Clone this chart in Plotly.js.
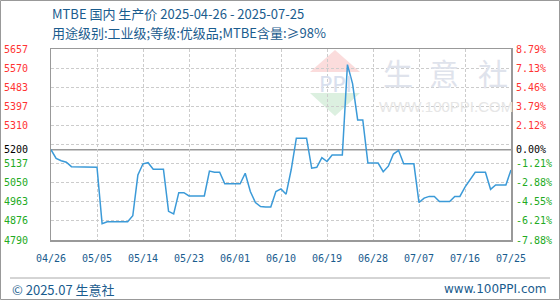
<!DOCTYPE html>
<html>
<head>
<meta charset="utf-8">
<script src="https://cdn.plot.ly/plotly-3.0.1.min.js"></script>
<style>
html,body{margin:0;padding:0;background:#fff;}
#chart{width:560px;height:300px;}
</style>
</head>
<body>
<div id="chart"></div>
<script>
// ---- data ----
const startDate = '2025-04-26';
const prices = [
  5200, 5160, 5150, 5143, 5123, 5123, 5123, 5123, 5123, 5120,
  4864, 4873, 4873, 4873, 4873, 4873, 4900, 5085, 5136, 5141,
  5111, 5111, 5111, 4920, 4908, 5005, 5005, 4990, 4990, 4990,
  4990, 5103, 5098, 5098, 5045, 5045, 5045, 5045, 5093, 5010,
  4960, 4942, 4940, 4940, 5010, 5022, 4998, 5110, 5252, 5252,
  5252, 5116, 5120, 5164, 5146, 5176, 5176, 5176, 5586, 5500,
  5335, 5335, 5139, 5139, 5139, 5100, 5125, 5180, 5197, 5136,
  5136, 5136, 4960, 4980, 4988, 4988, 4965, 4965, 4965, 4988,
  4988, 5030, 5065, 5097, 5097, 5097, 5020, 5040, 5040, 5040,
  5108
];
const baseValue = 5200;
const xTickLabels = ['04/26','05/05','05/14','05/23','06/01','06/10','06/19','06/28','07/07','07/16','07/25'];
const gridVals = [5657, 5570.3, 5483.6, 5396.9, 5310.2, 5223.5, 5136.8, 5050.1, 4963.4, 4876.7, 4790];
const leftLabelVals = [5657, 5570.3, 5483.6, 5396.9, 5310.2, 5200, 5136.8, 5050.1, 4963.4, 4876.7, 4790];
const leftLabels = ['5657','5570','5483','5397','5310','5200','5137','5050','4963','4876','4790'];
const pctLabels = ['8.79%','7.13%','5.46%','3.79%','2.12%','0.00%','-1.21%','-2.88%','-4.55%','-6.21%','-7.88%'];

// ---- helpers ----
function buildDates(start, n){
  const out = [];
  const d0 = new Date(start + 'T00:00:00Z');
  for (let i = 0; i < n; i++){
    const d = new Date(d0.getTime() + i*86400000);
    out.push(d.toISOString().slice(0,10));
  }
  return out;
}
const dates = buildDates(startDate, prices.length);
const tickDates = xTickLabels.map(s => '2025-' + s.replace('/', '-'));
function colorFor(v){ return v > baseValue ? '#ff3333' : (v < baseValue ? '#22aa22' : '#000000'); }
const leftText = leftLabels.map((t,i) => '<span style="color:' + colorFor(leftLabelVals[i]) + '">' + t + '</span>');
const rightText = pctLabels.map((t,i) => '<span style="color:' + colorFor(leftLabelVals[i]) + '">' + t + '</span>');

const yMin = gridVals[gridVals.length-1], yMax = gridVals[0];

// pixel -> paper helpers for decoration
const PL = 51, PR = 511, PT = 49, PB = 240;
const px = x => (x - PL) / (PR - PL);
const py = y => (PB - y) / (PB - PT);

const blue = '#1a5c8e';
const monoFont = '"DejaVu Sans Mono", monospace';

const trace = {
  x: dates, y: prices, type: 'scatter', mode: 'lines',
  line: {color: '#3b9ad8', width: 1.5},
  hoverinfo: 'skip', yaxis: 'y'
};
const dummyL = {x: [dates[0]], y: [baseValue], yaxis: 'y2', mode: 'markers', marker:{opacity:0}, hoverinfo:'skip', showlegend:false};
const dummyR = {x: [dates[0]], y: [baseValue], yaxis: 'y3', mode: 'markers', marker:{opacity:0}, hoverinfo:'skip', showlegend:false};

const layout = {
  width: 560, height: 300,
  margin: {l: PL, r: 560-PR, t: PT, b: 300-PB, pad: 0},
  paper_bgcolor: '#ffffff', plot_bgcolor: '#ffffff',
  showlegend: false,
  xaxis: {
    type: 'date', range: [dates[0], dates[dates.length-1]],
    tickvals: tickDates, ticktext: xTickLabels,
    tickfont: {family: monoFont, size: 10, color: blue},
    showgrid: true, gridcolor: '#cccccc', griddash: '3px,2px', gridwidth: 1,
    showline: true, linecolor: '#999999', linewidth: 1.5, mirror: true,
    ticks: '', ticklabelstandoff: 8, zeroline: false, fixedrange: true
  },
  yaxis: {
    range: [yMin, yMax], tickvals: gridVals, showticklabels: false,
    showgrid: true, gridcolor: '#cccccc', griddash: '3px,2px', gridwidth: 1,
    showline: true, linecolor: '#999999', linewidth: 1.5, mirror: true,
    ticks: '', zeroline: false, fixedrange: true
  },
  yaxis2: {
    overlaying: 'y', side: 'left', range: [yMin, yMax],
    tickvals: leftLabelVals, ticktext: leftText,
    tickfont: {family: monoFont, size: 10},
    showgrid: false, showline: false, ticks: '', zeroline: false,
    ticklabelstandoff: 22, fixedrange: true
  },
  yaxis3: {
    overlaying: 'y', side: 'right', range: [yMin, yMax],
    tickvals: leftLabelVals, ticktext: rightText,
    tickfont: {family: monoFont, size: 10},
    showgrid: false, showline: false, ticks: '', zeroline: false,
    ticklabelstandoff: 4, fixedrange: true
  },
  shapes: [
    {type:'line', xref:'paper', yref:'y', x0:0, x1:1, y0:baseValue, y1:baseValue, line:{color:'#999999', width:1.5}, layer:'below'},
    {type:'rect', xref:'paper', yref:'paper', x0:px(0.5), x1:px(559.5), y0:py(0.5), y1:py(299.5), line:{color:'#999999', width:1}},
    {type:'line', xref:'paper', yref:'paper', x0:px(10), x1:px(550), y0:py(278), y1:py(278), line:{color:'#aaaaaa', width:1}},
    {type:'path', xref:'paper', yref:'paper', layer:'below',
     path:'M '+px(310)+' '+py(72)+' L '+px(335)+' '+py(50)+' L '+px(360)+' '+py(72)+' Z',
     fillcolor:'#fbdcdc', line:{width:0}},
    {type:'path', xref:'paper', yref:'paper', layer:'below',
     path:'M '+px(310)+' '+py(93)+' L '+px(360)+' '+py(93)+' L '+px(335)+' '+py(116)+' Z',
     fillcolor:'#dcf0e0', line:{width:0}}
  ],
  annotations: [
    {text:'MTBE 国内 生产价 2025-04-26 - 2025-07-25', xref:'paper', yref:'paper', x:px(50), y:py(14), xanchor:'left', yanchor:'middle', showarrow:false,
     font:{family:'"Noto Sans CJK SC", sans-serif', size:13, color:blue}},
    {text:'用途级别:工业级;等级:优级品;MTBE含量:≥98%', xref:'paper', yref:'paper', x:px(50), y:py(33), xanchor:'left', yanchor:'middle', showarrow:false,
     font:{family:'"Noto Sans CJK SC", sans-serif', size:13, color:blue}},
    {text:'PPI', xref:'paper', yref:'paper', x:px(335), y:py(84), xanchor:'center', yanchor:'middle', showarrow:false,
     font:{family:'"DejaVu Sans", sans-serif', size:22, color:'#d9e0ee'}},
    {text:'生', xref:'paper', yref:'paper', x:px(398), y:py(72), xanchor:'center', yanchor:'middle', showarrow:false,
     font:{family:'"Noto Sans CJK SC", sans-serif', size:30, color:'#dfe3ec'}},
    {text:'意', xref:'paper', yref:'paper', x:px(444), y:py(72), xanchor:'center', yanchor:'middle', showarrow:false,
     font:{family:'"Noto Sans CJK SC", sans-serif', size:30, color:'#dfe3ec'}},
    {text:'社', xref:'paper', yref:'paper', x:px(493), y:py(72), xanchor:'center', yanchor:'middle', showarrow:false,
     font:{family:'"Noto Sans CJK SC", sans-serif', size:30, color:'#dfe3ec'}},
    {text:'WWW.100PPI.COM', xref:'paper', yref:'paper', x:px(446), y:py(106), xanchor:'center', yanchor:'middle', showarrow:false,
     font:{family:'"Liberation Sans", Arial, sans-serif', size:15, color:'#e6e6e6'}},
    {text:'© 2025.07 生意社', xref:'paper', yref:'paper', x:px(10), y:py(289), xanchor:'left', yanchor:'middle', showarrow:false,
     font:{family:'"Noto Sans CJK SC", sans-serif', size:13, color:blue}},
    {text:'www.100PPI.com', xref:'paper', yref:'paper', x:px(549), y:py(289), xanchor:'right', yanchor:'middle', showarrow:false,
     font:{family:'"DejaVu Sans", sans-serif', size:12, color:blue}}
  ]
};

Plotly.newPlot('chart', [trace, dummyL, dummyR], layout, {staticPlot: true, displayModeBar: false});
</script>
</body>
</html>
